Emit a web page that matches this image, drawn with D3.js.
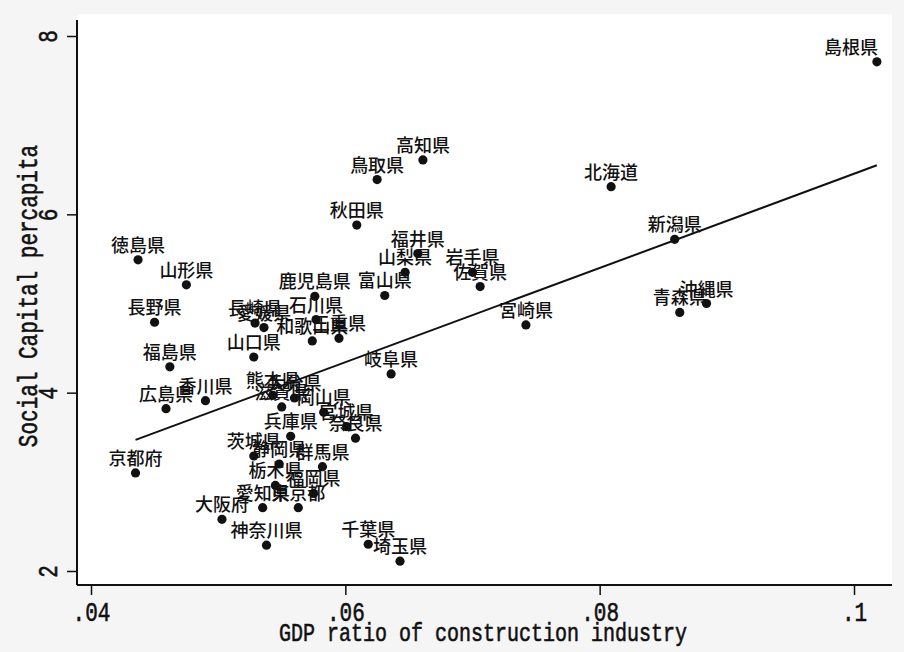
<!DOCTYPE html>
<html>
<head>
<meta charset="utf-8">
<script src="https://cdn.jsdelivr.net/npm/d3@7"></script>
<style>
  body { margin: 0; background: #f5f5f5; }
  svg { display: block; }
  .lat { font-family: "Liberation Mono", "DejaVu Sans Mono", monospace; fill: #111; stroke: #111; stroke-width: 0.45; }
  .jp { font-family: "Noto Sans CJK JP", sans-serif; font-weight: 500; fill: #111; }
</style>
</head>
<body>
<div id="chart"></div>
<script>
// prefecture names
const prefNames = ["島根県","高知県","鳥取県","北海道","秋田県","新潟県","福井県","徳島県","山梨県","岩手県",
  "山形県","佐賀県","富山県","鹿児島県","沖縄県","青森県","石川県","長野県","長崎県","宮崎県",
  "愛媛県","三重県","和歌山県","山口県","福島県","岐阜県","熊本県","大分県","香川県","滋賀県",
  "広島県","岡山県","宮城県","兵庫県","奈良県","茨城県","静岡県","群馬県","京都府","栃木県",
  "福岡県","愛知県","東京都","大阪府","千葉県","神奈川県","埼玉県"];

// GDP ratio of construction industry
const gdpRatio = [0.1018,0.0661,0.0625,0.0809,0.0609,0.0859,0.0657,0.0437,0.0647,0.0700,
  0.0475,0.0706,0.0631,0.0576,0.0884,0.0863,0.0577,0.0450,0.0529,0.0742,
  0.0536,0.0595,0.0574,0.0528,0.0462,0.0636,0.0543,0.0560,0.0490,0.0550,
  0.0459,0.0583,0.0601,0.0557,0.0608,0.0528,0.0548,0.0582,0.0435,0.0545,
  0.0575,0.0535,0.0563,0.0503,0.0618,0.0538,0.0643];

// Social capital per capita
const socialCapital = [7.71,6.61,6.39,6.31,5.88,5.72,5.56,5.49,5.35,5.35,
  5.21,5.19,5.09,5.08,5.00,4.90,4.82,4.79,4.78,4.76,
  4.73,4.61,4.58,4.40,4.29,4.21,3.97,3.94,3.91,3.84,
  3.82,3.78,3.62,3.51,3.49,3.29,3.20,3.17,3.10,2.96,
  2.87,2.71,2.71,2.58,2.30,2.29,2.11];

// fitted line, value at min and max of x
const fitY = [3.47, 6.55];

const xTicks = [0.04, 0.06, 0.08, 0.1];
const xTickLabels = [".04", ".06", ".08", ".1"];
const yTicks = [2, 4, 6, 8];

const width = 904, height = 652;
const axisX = 77, axisY = 585, plotRight = 892, plotTop = 14;

const svg = d3.select("#chart").append("svg")
  .attr("width", width)
  .attr("height", height);

// plot region
svg.append("rect")
  .attr("x", axisX).attr("y", plotTop)
  .attr("width", plotRight - axisX).attr("height", axisY - plotTop)
  .attr("fill", "#fff");

const x = d3.scaleLinear().domain([0.04, 0.1]).range([91, 854]);
const y = d3.scaleLinear().domain([2, 8]).range([571, 36]);

// axes
const gx = svg.append("g").attr("transform", "translate(0," + axisY + ")")
  .call(d3.axisBottom(x).tickValues(xTicks).tickSize(10).tickSizeOuter(0).tickFormat((d, i) => xTickLabels[i]));
gx.select(".domain").remove();
gx.append("line").attr("x1", axisX).attr("x2", plotRight).attr("stroke", "#111").attr("stroke-width", 2);
gx.selectAll(".tick line").attr("stroke", "#111").attr("stroke-width", 1.5);
gx.selectAll(".tick text").attr("class", "lat").attr("font-size", 21).attr("fill", "#111")
  .attr("dy", null).attr("y", null)
  .attr("transform", "translate(0,36) scale(1,1.3)");

const gy = svg.append("g").attr("transform", "translate(" + axisX + ",0)")
  .call(d3.axisLeft(y).tickValues(yTicks).tickSize(10).tickSizeOuter(0).tickFormat(d3.format("d")));
gy.select(".domain").remove();
gy.append("line").attr("y1", plotTop + 6).attr("y2", axisY).attr("stroke", "#111").attr("stroke-width", 2);
gy.selectAll(".tick line").attr("stroke", "#111").attr("stroke-width", 1.5);
gy.selectAll(".tick text")
  .attr("class", "lat").attr("font-size", 21).attr("fill", "#111")
  .attr("x", null).attr("dy", null)
  .attr("text-anchor", "middle")
  .attr("transform", "translate(-20,0) rotate(-90) scale(1,1.3)");

// axis titles
svg.append("text").attr("class", "lat")
  .attr("transform", "translate(483,641) scale(1,1.3)")
  .attr("text-anchor", "middle").attr("font-size", 20)
  .text("GDP ratio of construction industry");

svg.append("text").attr("class", "lat")
  .attr("transform", "translate(37,296) rotate(-90) scale(1,1.3)")
  .attr("text-anchor", "middle").attr("font-size", 21)
  .text("Social Capital percapita");

// fit line
const xExt = d3.extent(gdpRatio);
svg.append("path")
  .datum([[xExt[0], fitY[0]], [xExt[1], fitY[1]]])
  .attr("fill", "none").attr("stroke", "#111").attr("stroke-width", 2)
  .attr("d", d3.line().x(d => x(d[0])).y(d => y(d[1])));

// points
const pts = prefNames.map((n, i) => ({ name: n, gx: gdpRatio[i], sc: socialCapital[i] }));

svg.append("g").selectAll("circle").data(pts).join("circle")
  .attr("cx", d => x(d.gx)).attr("cy", d => y(d.sc))
  .attr("r", 4.6).attr("fill", "#111");

// labels sit above the dot; keep them from running off the right edge
const labelFont = 18;
svg.append("g").selectAll("text").data(pts).join("text")
  .attr("class", "jp")
  .attr("x", d => Math.min(x(d.gx), plotRight - 14 - d.name.length * labelFont / 2))
  .attr("y", d => y(d.sc) - 8)
  .attr("text-anchor", "middle").attr("font-size", labelFont)
  .text(d => d.name);
</script>
</body>
</html>
